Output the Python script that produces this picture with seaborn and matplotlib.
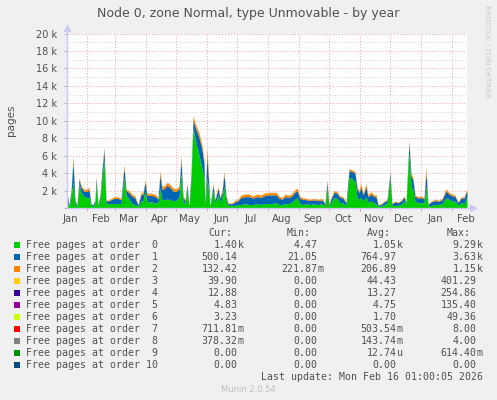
import numpy as np
import matplotlib
matplotlib.use("Agg")
import matplotlib.pyplot as plt
import matplotlib.dates as mdates
import seaborn as sns
from matplotlib.ticker import MultipleLocator, FuncFormatter
from matplotlib.patches import Rectangle

# --- data (values in thousands of pages) ---
start_day = np.datetime64("2025-01-12")
span_days = 400

days = [
    0, 2, 4, 6, 8, 10, 12, 14, 17, 20,
    22, 24, 26, 28, 29, 31, 33, 35, 37, 39,
    41, 44, 47, 51, 54, 57, 59, 62, 65, 68,
    71, 74, 76, 78, 80, 84, 88, 91, 93, 95,
    98, 100, 103, 106, 109, 112, 114, 116, 118, 120,
    122, 124, 126, 129, 132, 135, 137, 138, 140, 142,
    143, 146, 148, 151, 153, 155, 157, 159, 161, 165,
    168, 171, 174, 178, 182, 186, 190, 194, 197, 201,
    205, 209, 212, 215, 218, 221, 224, 227, 230, 233,
    236, 239, 243, 247, 251, 255, 258, 260, 262, 264,
    267, 270, 273, 276, 279, 282, 285, 288, 290, 292,
    294, 296, 299, 301, 304, 307, 309, 311, 314, 317,
    320, 323, 325, 328, 331, 334, 337, 339, 342, 344,
    346, 348, 351, 354, 357, 359, 361, 364, 368, 372,
    375, 379, 382, 385, 388, 391, 394, 397, 399, 400,
]

order0 = [
    0.8, 0.2, 1.2, 3.0, 0.5, 0.2, 2.8, 1.8, 1.3, 1.2,
    1.2, 0.3, 0.25, 0.5, 2.8, 0.3, 1.0, 3.5, 5.5, 0.6,
    0.5, 0.5, 0.5, 0.5, 0.5, 3.5, 1.5, 1.0, 0.5, 0.4,
    0.2, 0.8, 0.8, 2.0, 0.7, 0.7, 0.6, 0.6, 2.3, 0.9,
    1.0, 1.0, 1.0, 0.8, 0.9, 1.2, 4.0, 0.8, 0.5, 2.2,
    0.2, 3.0, 9.2, 7.4, 6.1, 4.5, 3.5, 0.3, 3.5, 1.5,
    0.15, 2.0, 0.6, 1.5, 0.7, 1.2, 2.5, 0.8, 0.3, 0.3,
    0.3, 0.4, 0.4, 0.5, 0.4, 0.4, 0.5, 0.4, 0.5, 0.5,
    0.5, 0.6, 0.4, 0.4, 0.5, 0.5, 0.6, 0.9, 1.2, 0.5,
    0.4, 0.5, 0.4, 0.5, 0.4, 0.5, 0.3, 2.5, 0.2, 0.6,
    1.2, 1.1, 0.6, 0.6, 0.3, 3.5, 3.4, 3.0, 1.2, 1.0,
    1.2, 0.8, 1.3, 0.7, 0.8, 0.6, 0.5, 0.2, 0.2, 0.4,
    0.5, 3.5, 0.3, 0.3, 0.3, 0.4, 0.8, 0.4, 6.3, 2.5,
    2.0, 0.8, 0.6, 0.6, 0.6, 2.5, 0.2, 0.3, 0.4, 0.4,
    0.5, 1.2, 1.0, 0.8, 0.8, 0.3, 0.6, 0.5, 1.0, 1.4,
]

order1 = [
    0.7, 0.15, 0.6, 2.4, 0.4, 0.15, 0.5, 0.6, 0.6, 0.7,
    0.9, 0.15, 0.12, 0.4, 0.6, 0.15, 0.4, 0.8, 1.2, 0.3,
    0.3, 0.45, 0.6, 0.6, 0.45, 1.1, 0.5, 0.75, 0.85, 0.75,
    0.15, 0.75, 0.75, 0.95, 0.75, 0.75, 0.75, 0.45, 1.5, 1.2,
    1.3, 1.6, 1.35, 1.15, 1.0, 1.0, 1.5, 0.5, 0.3, 0.45,
    0.08, 0.8, 0.9, 1.6, 2.0, 2.2, 1.6, 0.2, 2.5, 0.7,
    0.1, 0.6, 0.3, 0.75, 0.45, 0.6, 1.35, 0.5, 0.2, 0.2,
    0.4, 0.45, 0.8, 0.8, 0.9, 0.75, 0.8, 0.8, 0.9, 1.0,
    1.0, 0.9, 0.75, 0.6, 0.8, 0.75, 0.7, 0.8, 0.8, 0.6,
    0.6, 0.45, 0.45, 0.45, 0.45, 0.45, 0.2, 0.5, 0.15, 0.45,
    0.6, 0.6, 0.6, 0.55, 0.3, 0.8, 0.8, 1.0, 1.0, 0.75,
    1.2, 0.7, 1.1, 0.6, 0.8, 0.7, 0.8, 0.15, 0.2, 0.3,
    0.4, 0.5, 0.2, 0.4, 0.3, 0.4, 0.45, 0.2, 1.2, 1.2,
    1.2, 0.55, 0.55, 0.6, 0.45, 1.6, 0.2, 0.4, 0.45, 0.4,
    0.45, 0.75, 0.6, 0.6, 0.55, 0.3, 0.55, 0.6, 0.75, 0.5,
]

order2 = [
    0.2, 0.04, 0.15, 0.45, 0.08, 0.04, 0.15, 0.15, 0.2, 0.2,
    0.2, 0.04, 0.03, 0.08, 0.15, 0.04, 0.08, 0.15, 0.3, 0.08,
    0.08, 0.12, 0.15, 0.15, 0.12, 0.3, 0.15, 0.2, 0.2, 0.2,
    0.04, 0.2, 0.2, 0.2, 0.2, 0.2, 0.2, 0.12, 0.4, 0.3,
    0.25, 0.3, 0.3, 0.3, 0.25, 0.25, 0.4, 0.15, 0.08, 0.12,
    0.02, 0.15, 0.35, 0.4, 0.45, 0.4, 0.35, 0.08, 0.8, 0.25,
    0.04, 0.15, 0.08, 0.2, 0.12, 0.15, 0.3, 0.15, 0.08, 0.08,
    0.15, 0.12, 0.25, 0.25, 0.25, 0.2, 0.25, 0.25, 0.25, 0.25,
    0.25, 0.25, 0.2, 0.15, 0.25, 0.2, 0.2, 0.25, 0.25, 0.15,
    0.15, 0.12, 0.12, 0.12, 0.12, 0.12, 0.08, 0.15, 0.04, 0.12,
    0.15, 0.15, 0.15, 0.12, 0.08, 0.15, 0.15, 0.15, 0.25, 0.2,
    0.3, 0.15, 0.3, 0.15, 0.25, 0.15, 0.25, 0.04, 0.08, 0.08,
    0.08, 0.15, 0.08, 0.08, 0.08, 0.08, 0.12, 0.08, 0.3, 0.25,
    0.25, 0.12, 0.12, 0.15, 0.12, 0.5, 0.08, 0.08, 0.12, 0.08,
    0.12, 0.2, 0.15, 0.15, 0.12, 0.08, 0.12, 0.15, 0.2, 0.13,
]

order3 = [
    0.05, 0.01, 0.03, 0.1, 0.02, 0.01, 0.04, 0.04, 0.05, 0.06,
    0.06, 0.01, 0.01, 0.02, 0.1, 0.01, 0.02, 0.04, 0.06, 0.02,
    0.02, 0.03, 0.04, 0.04, 0.03, 0.08, 0.04, 0.05, 0.05, 0.05,
    0.01, 0.05, 0.06, 0.05, 0.05, 0.05, 0.05, 0.03, 0.08, 0.07,
    0.06, 0.07, 0.06, 0.06, 0.05, 0.05, 0.08, 0.04, 0.02, 0.03,
    0.01, 0.04, 0.07, 0.08, 0.1, 0.08, 0.07, 0.02, 0.15, 0.05,
    0.01, 0.04, 0.02, 0.05, 0.03, 0.04, 0.06, 0.04, 0.02, 0.02,
    0.04, 0.03, 0.05, 0.05, 0.05, 0.05, 0.05, 0.05, 0.05, 0.05,
    0.05, 0.05, 0.05, 0.04, 0.05, 0.05, 0.05, 0.05, 0.05, 0.04,
    0.04, 0.03, 0.03, 0.03, 0.03, 0.03, 0.02, 0.04, 0.01, 0.03,
    0.04, 0.04, 0.04, 0.03, 0.02, 0.04, 0.04, 0.04, 0.05, 0.05,
    0.07, 0.04, 0.07, 0.04, 0.05, 0.04, 0.05, 0.01, 0.02, 0.02,
    0.02, 0.04, 0.02, 0.02, 0.02, 0.02, 0.03, 0.02, 0.08, 0.05,
    0.05, 0.03, 0.03, 0.04, 0.03, 0.15, 0.02, 0.02, 0.03, 0.02,
    0.03, 0.05, 0.04, 0.04, 0.03, 0.02, 0.03, 0.04, 0.05, 0.04,
]

order4 = [
    0.02, 0, 0.01, 0.03, 0, 0, 0.01, 0.01, 0.02, 0.02,
    0.02, 0, 0, 0, 0.03, 0, 0, 0.01, 0.02, 0,
    0, 0.01, 0.01, 0.01, 0.01, 0.02, 0.01, 0.01, 0.01, 0.01,
    0, 0.01, 0.02, 0.01, 0.01, 0.01, 0.01, 0.01, 0.02, 0.02,
    0.02, 0.02, 0.02, 0.02, 0.01, 0.01, 0.02, 0.01, 0, 0.01,
    0, 0.01, 0.02, 0.02, 0.03, 0.02, 0.02, 0, 0.04, 0.01,
    0, 0.01, 0, 0.01, 0.01, 0.01, 0.02, 0.01, 0, 0,
    0.01, 0.01, 0.01, 0.01, 0.01, 0.01, 0.01, 0.01, 0.01, 0.01,
    0.01, 0.01, 0.01, 0.01, 0.01, 0.01, 0.01, 0.01, 0.01, 0.01,
    0.01, 0.01, 0.01, 0.01, 0.01, 0.01, 0, 0.01, 0, 0.01,
    0.01, 0.01, 0.01, 0.01, 0, 0.01, 0.01, 0.01, 0.01, 0.01,
    0.02, 0.01, 0.02, 0.01, 0.01, 0.01, 0.01, 0, 0, 0,
    0, 0.01, 0, 0, 0, 0, 0.01, 0, 0.02, 0.01,
    0.01, 0.01, 0.01, 0.01, 0.01, 0.04, 0, 0, 0.01, 0,
    0.01, 0.01, 0.01, 0.01, 0.01, 0, 0.01, 0.01, 0.01, 0.013,
]

# legend table
orders = list(range(11))
colors = ["#00CC00", "#0066B3", "#FF8000", "#FFCC00", "#330099", "#990099",
          "#CCFF00", "#FF0000", "#808080", "#008F00", "#00487D"]
cur_vals = ["1.40k", "500.14", "132.42", "39.90", "12.88", "4.83", "3.23",
            "711.81m", "378.32m", "0.00", "0.00"]
min_vals = ["4.47", "21.05", "221.87m", "0.00", "0.00", "0.00", "0.00",
            "0.00", "0.00", "0.00", "0.00"]
avg_vals = ["1.05k", "764.97", "206.89", "44.43", "13.27", "4.75", "1.70",
            "503.54m", "143.74m", "12.74u", "0.00"]
max_vals = ["9.29k", "3.63k", "1.15k", "401.29", "254.86", "135.40", "49.36",
            "8.00", "4.00", "614.40m", "0.00"]

month_names = ["Jan", "Feb", "Mar", "Apr", "May", "Jun", "Jul",
               "Aug", "Sep", "Oct", "Nov", "Dec"]

# --- style ---
sns.set_theme(style="white")
plt.rcParams["font.family"] = ["DejaVu Sans"]
text_col = "#505050"
axis_col = "#c9c9f2"

W, H = 497, 400
fig = plt.figure(figsize=(W / 100, H / 100), dpi=100, facecolor="#f0f0f0")
ax = fig.add_axes([67 / W, 1 - 208 / H, 400 / W, 174.5 / H])
ax.set_facecolor("white")

t = start_day + np.array(days).astype("timedelta64[D]")
stack = [np.array(s) * 1000 for s in (order0, order1, order2, order3, order4)]
ax.stackplot(t, *stack, colors=colors[:5], linewidth=0, zorder=2)

ax.set_xlim(start_day, start_day + np.timedelta64(span_days, "D"))
ax.set_ylim(0, 20000)

# y axis
ax.yaxis.set_major_locator(MultipleLocator(2000))
ax.yaxis.set_minor_locator(MultipleLocator(1000))
ax.yaxis.set_major_formatter(FuncFormatter(lambda v, p: "" if v == 0 else f"{v / 1000:.0f} k"))
ax.tick_params(axis="y", which="major", length=2, width=0.6, color="#aaaaaa",
               labelsize=7, labelcolor=text_col, pad=5, left=True)
ax.tick_params(axis="y", which="minor", length=0)
ax.grid(axis="y", which="major", color="#f4a0a0", linestyle=(0, (1, 2)), linewidth=0.7, zorder=1)
ax.grid(axis="y", which="minor", color="#c8c8c8", linestyle=(0, (1, 2)), linewidth=0.6, zorder=1)

# x axis: gridlines at month starts, labels mid-month
ax.xaxis.set_minor_locator(mdates.MonthLocator())
ax.xaxis.set_major_locator(mdates.MonthLocator(bymonthday=15))
ax.xaxis.set_major_formatter(FuncFormatter(lambda v, p: month_names[mdates.num2date(v).month - 1]))
ax.tick_params(axis="x", which="major", length=0, labelsize=7.3, labelcolor=text_col, pad=4)
ax.tick_params(axis="x", which="minor", length=2, width=0.6, color="#f08080", bottom=True)
ax.grid(axis="x", which="minor", color="#f4a0a0", linestyle=(0, (1, 2)), linewidth=0.7, zorder=1)
ax.grid(axis="x", which="major", visible=False)
ax.set_axisbelow(True)

for side in ["top", "right"]:
    ax.spines[side].set_visible(False)
for side in ["left", "bottom"]:
    ax.spines[side].set_color(axis_col)
    ax.spines[side].set_linewidth(1.0)
    ax.spines[side].set_zorder(3)

# axis arrows
ax.plot([0, 0], [1, 1.025], transform=ax.transAxes, color=axis_col, lw=1, clip_on=False)
ax.plot([0], [1.03], marker="^", markersize=4, color=axis_col, transform=ax.transAxes, clip_on=False)
ax.plot([1, 1.01], [0, 0], transform=ax.transAxes, color=axis_col, lw=1, clip_on=False)
ax.plot([1.015], [0], marker=">", markersize=4, color=axis_col, transform=ax.transAxes, clip_on=False)

# --- overlay in pixel coordinates for title and legend table ---
ov = fig.add_axes([0, 0, 1, 1])
ov.set_xlim(0, W)
ov.set_ylim(H, 0)
ov.axis("off")

ov.text(248, 14, "Node 0, zone Normal, type Unmovable - by year", ha="center", va="center",
        fontsize=9, color=text_col)
ov.text(11, 120, "pages", rotation=90, ha="center", va="center", fontsize=7.5, color=text_col)
ov.text(487, 5, "RRDTOOL / TOBI OETIKER", rotation=270, ha="center", va="top",
        fontsize=5.2, color="#c8c8c8")

mono = "DejaVu Sans Mono"
fs = 7.1
row0, step = 244.5, 12.05
for name, x in zip(["Cur:", "Min:", "Avg:", "Max:"], [208, 287, 367, 447]):
    ov.text(x, 232.7, name, ha="left", va="center", family=mono, fontsize=fs, color=text_col)

num_right = [237.7, 317.7, 396.7, 476.7]
for i, o in enumerate(orders):
    y = row0 + i * step
    ov.add_patch(Rectangle((14, y - 3), 6, 6, facecolor=colors[i], edgecolor="none"))
    ov.text(26.5, y, f"Free pages at order {o:2d}", ha="left", va="center",
            family=mono, fontsize=fs, color=text_col)
    for col, xr in zip((cur_vals, min_vals, avg_vals, max_vals), num_right):
        s = col[i]
        num, suf = (s[:-1], s[-1]) if s[-1].isalpha() else (s, "")
        ov.text(xr, y, num, ha="right", va="center", family=mono, fontsize=fs, color=text_col)
        if suf:
            ov.text(xr, y, suf, ha="left", va="center", family=mono, fontsize=fs, color=text_col)

ov.text(482.7, 376.7, "Last update: Mon Feb 16 01:00:05 2026", ha="right", va="center",
        family=mono, fontsize=fs, color=text_col)
ov.text(248, 389, "Munin 2.0.54", ha="center", va="center", fontsize=6, color="#bdbdbd")

fig.savefig("out.png", dpi=100, facecolor=fig.get_facecolor())
